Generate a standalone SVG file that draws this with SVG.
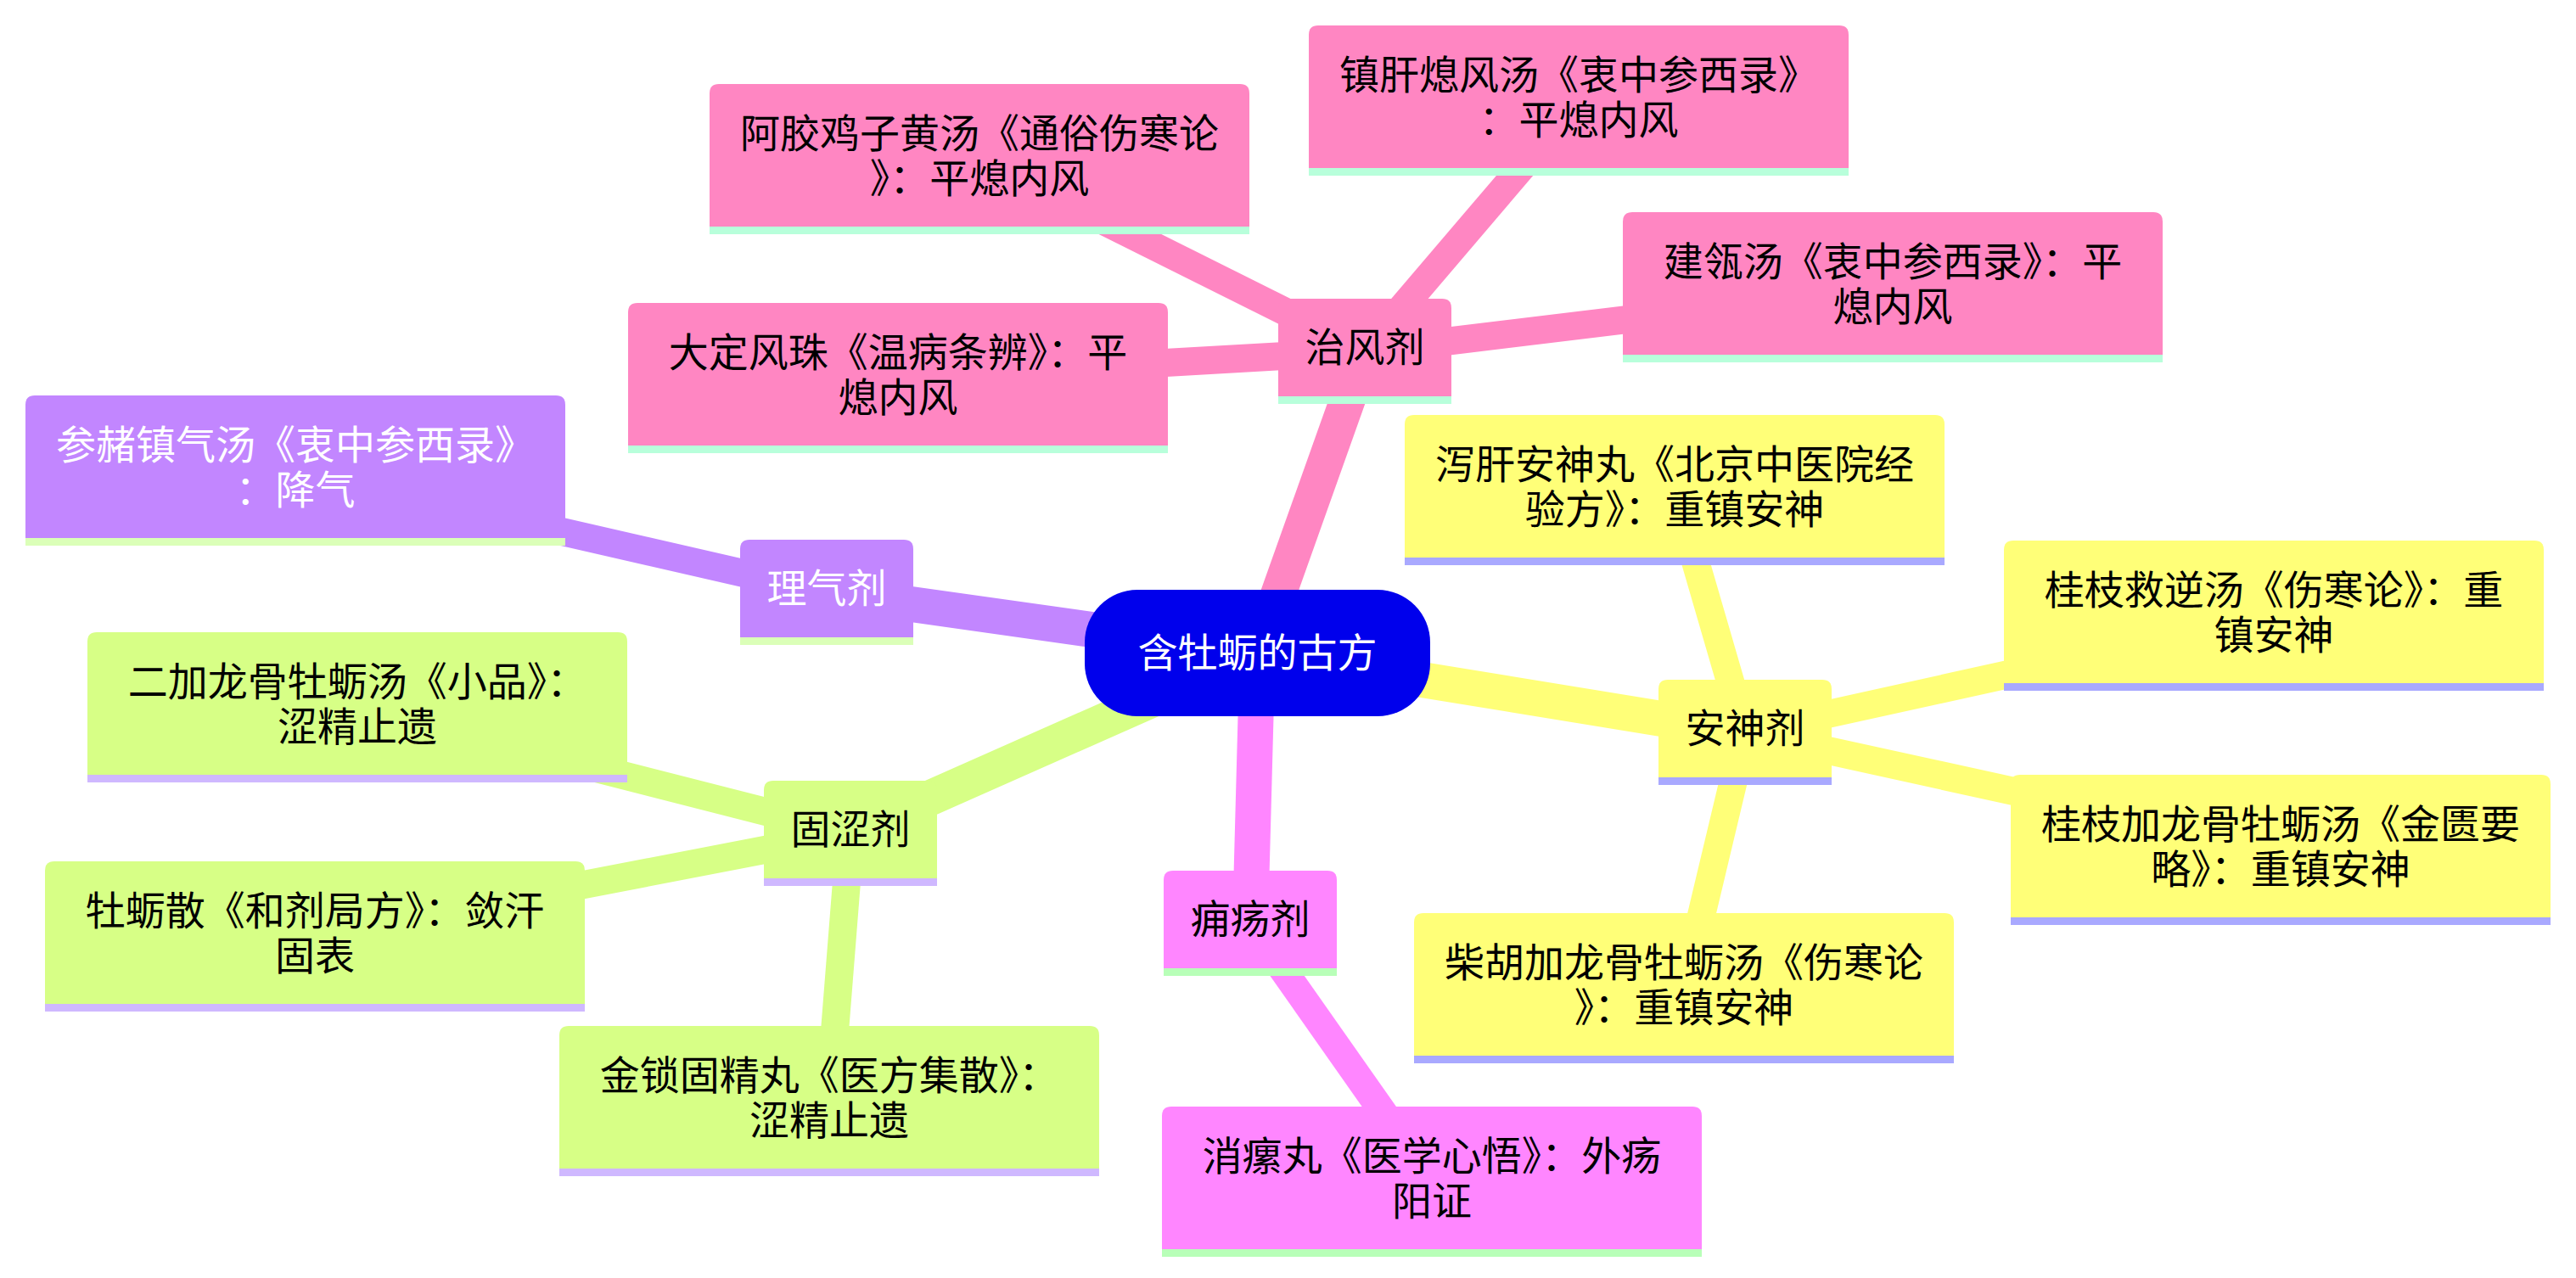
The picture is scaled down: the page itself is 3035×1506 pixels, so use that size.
<svg xmlns="http://www.w3.org/2000/svg" width="3035" height="1506" viewBox="0 0 3035 1506">
<style>
text{font-family:"Liberation Sans","Noto Sans CJK SC","Noto Sans CJK TC",sans-serif;font-size:47px;text-anchor:middle;dominant-baseline:central;fill:#000}
tspan{dominant-baseline:central}
.e1{stroke-width:42;stroke-linecap:butt;fill:none}
.e2{stroke-width:33;stroke-linecap:butt;fill:none}
.pk{fill:#ff86c2}.pk-l{stroke:#ff86c2}.pk-b{fill:#b8ffdb}
.pu{fill:#c286ff}.pu-l{stroke:#c286ff}.pu-b{fill:#dbffb8}
.li{fill:#d7ff86}.li-l{stroke:#d7ff86}.li-b{fill:#cfb8ff}
.mg{fill:#ff86ff}.mg-l{stroke:#ff86ff}.mg-b{fill:#b8ffb8}
.ye{fill:#ffff78}.ye-l{stroke:#ffff78}.ye-b{fill:#a9a9ff}
.wt{fill:#fff}
</style>
<defs>
<path id="leaf" d="M0,168 V11 Q0,0 11,0 H625 Q636,0 636,11 V168 Z"/>
<rect id="leafband" x="0" y="168" width="636" height="9"/>
<path id="cat" d="M0,115 V11 Q0,0 11,0 H193 Q204,0 204,11 V115 Z"/>
<rect id="catband" x="0" y="115" width="204" height="9"/>
</defs>
<rect width="3035" height="1506" fill="#fff"/>
<g id="connectors">
<line class="e1 pk-l" x1="1481.5" y1="769.5" x2="1608" y2="414"/>
<line class="e1 pu-l" x1="1481.5" y1="769.5" x2="974" y2="698"/>
<line class="e1 li-l" x1="1481.5" y1="769.5" x2="1002" y2="982"/>
<line class="e1 mg-l" x1="1481.5" y1="769.5" x2="1473" y2="1088"/>
<line class="e1 ye-l" x1="1481.5" y1="769.5" x2="2056" y2="863"/>
<line class="e2 pk-l" x1="1608" y1="414" x2="1154" y2="187.5"/>
<line class="e2 pk-l" x1="1608" y1="414" x2="1860" y2="118.5"/>
<line class="e2 pk-l" x1="1608" y1="414" x2="2230" y2="338.5"/>
<line class="e2 pk-l" x1="1608" y1="414" x2="1058" y2="445.5"/>
<line class="e2 pu-l" x1="974" y1="698" x2="348" y2="554.5"/>
<line class="e2 li-l" x1="1002" y1="982" x2="421" y2="833.5"/>
<line class="e2 li-l" x1="1002" y1="982" x2="371" y2="1103.5"/>
<line class="e2 li-l" x1="1002" y1="982" x2="977" y2="1297.5"/>
<line class="e2 mg-l" x1="1473" y1="1088" x2="1687" y2="1392.5"/>
<line class="e2 ye-l" x1="2056" y1="863" x2="1973" y2="577.5"/>
<line class="e2 ye-l" x1="2056" y1="863" x2="2679" y2="725.5"/>
<line class="e2 ye-l" x1="2056" y1="863" x2="2687" y2="1001.5"/>
<line class="e2 ye-l" x1="2056" y1="863" x2="1984" y2="1164.5"/>
</g>
<g id="root">
<rect x="1278" y="695" width="407" height="149" rx="62" ry="62" fill="#0000ec"/>
<text class="wt" x="1481.5" y="769.5">含牡蛎的古方</text>
</g>
<g id="n-zhifeng" transform="translate(1506,352)">
<use href="#cat" class="pk"/><use href="#catband" class="pk-b"/>
<text x="102" y="57.5">治风剂</text>
</g>
<g id="n-liqi" transform="translate(872,636)">
<use href="#cat" class="pu"/><use href="#catband" class="pu-b"/>
<text class="wt" x="102" y="57.5">理气剂</text>
</g>
<g id="n-guse" transform="translate(900,920)">
<use href="#cat" class="li"/><use href="#catband" class="li-b"/>
<text x="102" y="57.5">固涩剂</text>
</g>
<g id="n-yongyang" transform="translate(1371,1026)">
<use href="#cat" class="mg"/><use href="#catband" class="mg-b"/>
<text x="102" y="57.5">痈疡剂</text>
</g>
<g id="n-anshen" transform="translate(1954,801)">
<use href="#cat" class="ye"/><use href="#catband" class="ye-b"/>
<text x="102" y="57.5">安神剂</text>
</g>
<g id="n-ejiao" transform="translate(836,99)">
<use href="#leaf" class="pk"/><use href="#leafband" class="pk-b"/>
<text><tspan x="318" y="57.5">阿胶鸡子黄汤《通俗伤寒论</tspan><tspan x="318" y="110.5">》：平熄内风</tspan></text>
</g>
<g id="n-zhengan" transform="translate(1542,30)">
<use href="#leaf" class="pk"/><use href="#leafband" class="pk-b"/>
<text><tspan x="318" y="57.5">镇肝熄风汤《衷中参西录》</tspan><tspan x="318" y="110.5">：平熄内风</tspan></text>
</g>
<g id="n-jianling" transform="translate(1912,250)">
<use href="#leaf" class="pk"/><use href="#leafband" class="pk-b"/>
<text><tspan x="318" y="57.5">建瓴汤《衷中参西录》：平</tspan><tspan x="318" y="110.5">熄内风</tspan></text>
</g>
<g id="n-dading" transform="translate(740,357)">
<use href="#leaf" class="pk"/><use href="#leafband" class="pk-b"/>
<text><tspan x="318" y="57.5">大定风珠《温病条辨》：平</tspan><tspan x="318" y="110.5">熄内风</tspan></text>
</g>
<g id="n-shenzhe" transform="translate(30,466)">
<use href="#leaf" class="pu"/><use href="#leafband" class="pu-b"/>
<text class="wt"><tspan x="318" y="57.5">参赭镇气汤《衷中参西录》</tspan><tspan x="318" y="110.5">：降气</tspan></text>
</g>
<g id="n-erjia" transform="translate(103,745)">
<use href="#leaf" class="li"/><use href="#leafband" class="li-b"/>
<text><tspan x="318" y="57.5">二加龙骨牡蛎汤《小品》：</tspan><tspan x="318" y="110.5">涩精止遗</tspan></text>
</g>
<g id="n-mulisan" transform="translate(53,1015)">
<use href="#leaf" class="li"/><use href="#leafband" class="li-b"/>
<text><tspan x="318" y="57.5">牡蛎散《和剂局方》：敛汗</tspan><tspan x="318" y="110.5">固表</tspan></text>
</g>
<g id="n-jinsuo" transform="translate(659,1209)">
<use href="#leaf" class="li"/><use href="#leafband" class="li-b"/>
<text><tspan x="318" y="57.5">金锁固精丸《医方集散》：</tspan><tspan x="318" y="110.5">涩精止遗</tspan></text>
</g>
<g id="n-xiaoluo" transform="translate(1369,1304)">
<use href="#leaf" class="mg"/><use href="#leafband" class="mg-b"/>
<text><tspan x="318" y="57.5">消瘰丸《医学心悟》：外疡</tspan><tspan x="318" y="110.5">阳证</tspan></text>
</g>
<g id="n-xiegan" transform="translate(1655,489)">
<use href="#leaf" class="ye"/><use href="#leafband" class="ye-b"/>
<text><tspan x="318" y="57.5">泻肝安神丸《北京中医院经</tspan><tspan x="318" y="110.5">验方》：重镇安神</tspan></text>
</g>
<g id="n-jiuni" transform="translate(2361,637)">
<use href="#leaf" class="ye"/><use href="#leafband" class="ye-b"/>
<text><tspan x="318" y="57.5">桂枝救逆汤《伤寒论》：重</tspan><tspan x="318" y="110.5">镇安神</tspan></text>
</g>
<g id="n-guizhijia" transform="translate(2369,913)">
<use href="#leaf" class="ye"/><use href="#leafband" class="ye-b"/>
<text><tspan x="318" y="57.5">桂枝加龙骨牡蛎汤《金匮要</tspan><tspan x="318" y="110.5">略》：重镇安神</tspan></text>
</g>
<g id="n-chaihu" transform="translate(1666,1076)">
<use href="#leaf" class="ye"/><use href="#leafband" class="ye-b"/>
<text><tspan x="318" y="57.5">柴胡加龙骨牡蛎汤《伤寒论</tspan><tspan x="318" y="110.5">》：重镇安神</tspan></text>
</g>
</svg>
